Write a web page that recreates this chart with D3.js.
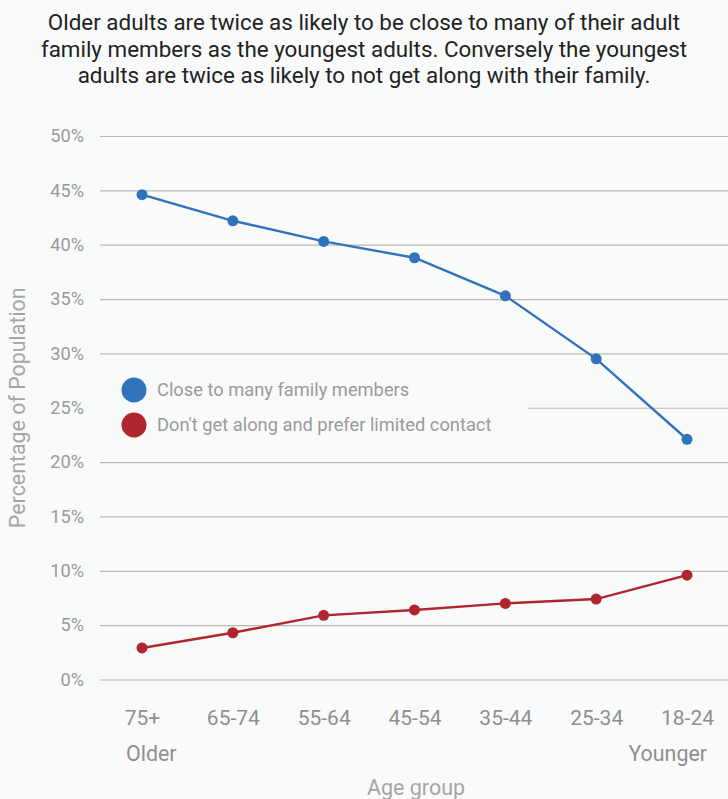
<!DOCTYPE html>
<html>
<head>
<meta charset="utf-8">
<script src="https://cdn.jsdelivr.net/npm/d3@7"></script>
<style>
  html, body { margin: 0; padding: 0; background: #f9fafa; }
  svg { display: block; font-family: Roboto, "Noto Sans", sans-serif; }
</style>
</head>
<body>
<script>
// Age groups, oldest first
const ageGroups = ["75+", "65-74", "55-64", "45-54", "35-44", "25-34", "18-24"];
// Share of population (%) per age group
const closeToFamily = [44.6, 42.2, 40.3, 38.8, 35.3, 29.5, 22.1];
const limitedContact = [2.9, 4.3, 5.9, 6.4, 7.0, 7.4, 9.6];
const yTicks = [0, 5, 10, 15, 20, 25, 30, 35, 40, 45, 50];
const seriesNames = ["Close to many family members", "Don't get along and prefer limited contact"];
const seriesColors = ["#3172bc", "#b0262f"];
const titleLines = [
  "Older adults are twice as likely to be close to many of their adult",
  "family members as the youngest adults. Conversely the youngest",
  "adults are twice as likely to not get along with their family."
];

const W = 728, H = 799;
const svg = d3.select("body").append("svg").attr("width", W).attr("height", H);
svg.append("rect").attr("width", W).attr("height", H).attr("fill", "#f9fafa");

const plot = { left: 100, right: 728, top: 136, bottom: 679.5 };

const x = d3.scalePoint().domain(ageGroups).range([142, 687]);
const y = d3.scaleLinear().domain([0, 50]).range([plot.bottom, plot.top]);

// Title
svg.append("g").selectAll("text").data(titleLines).join("text")
  .attr("x", W / 2)
  .attr("y", (d, i) => 30 + i * 26.5)
  .attr("text-anchor", "middle")
  .attr("fill", "#222")
  .attr("font-size", 22.4)
  .text(d => d);

// Horizontal gridlines with percentage labels
const yAxis = d3.axisLeft(y).tickValues(yTicks).tickFormat(d => d + "%")
  .tickSize(-(plot.right - plot.left)).tickPadding(16);
const gy = svg.append("g").attr("transform", `translate(${plot.left},0)`).call(yAxis);
gy.select(".domain").remove();
gy.selectAll(".tick line").attr("stroke", "#b8b8b8").attr("stroke-width", 1.2);
gy.selectAll(".tick text").attr("fill", "#9a9a9a").attr("font-size", 18.2)
  .attr("font-family", "Roboto, sans-serif");

// Category labels along the bottom
const xAxis = d3.axisBottom(x).tickSize(0).tickPadding(0);
const gx = svg.append("g").attr("transform", `translate(0,${plot.bottom + 27})`).call(xAxis);
gx.select(".domain").remove();
gx.selectAll(".tick text").attr("fill", "#8f8f8f").attr("font-size", 21)
  .attr("font-family", "Roboto, sans-serif").attr("dy", "0.9em");

svg.append("text").attr("x", x(ageGroups[0]) - 16).attr("y", 761)
  .attr("fill", "#8f8f8f").attr("font-size", 21.4).text("Older");
svg.append("text").attr("x", x(ageGroups[ageGroups.length - 1]) + 20).attr("y", 761)
  .attr("text-anchor", "end").attr("fill", "#8f8f8f").attr("font-size", 21.4).text("Younger");

// Axis titles
svg.append("text").attr("x", 416).attr("y", 795).attr("text-anchor", "middle")
  .attr("fill", "#a6a6a6").attr("font-size", 21.5).text("Age group");
svg.append("text").attr("transform", `translate(25,${(plot.top + plot.bottom) / 2}) rotate(-90)`)
  .attr("text-anchor", "middle").attr("fill", "#a6a6a6").attr("font-size", 21.4)
  .text("Percentage of Population");

// Series lines and markers
const series = [closeToFamily, limitedContact];
const line = d3.line().x((d, i) => x(ageGroups[i])).y(d => y(d));
series.forEach((vals, s) => {
  svg.append("path").datum(vals).attr("d", line).attr("fill", "none")
    .attr("stroke", seriesColors[s]).attr("stroke-width", 2.4);
  svg.append("g").selectAll("circle").data(vals).join("circle")
    .attr("cx", (d, i) => x(ageGroups[i])).attr("cy", d => y(d)).attr("r", 5.5)
    .attr("fill", seriesColors[s]);
});

// Legend with a backing panel over the gridlines
const legend = svg.append("g");
legend.append("rect").attr("x", 100).attr("y", 370).attr("width", 428).attr("height", 76)
  .attr("fill", "#f9fafa");
seriesNames.forEach((name, i) => {
  const cy = 390 + i * 35;
  legend.append("circle").attr("cx", 134).attr("cy", cy).attr("r", 12.5).attr("fill", seriesColors[i]);
  legend.append("text").attr("x", 157).attr("y", cy).attr("dy", "0.35em")
    .attr("fill", "#9a9a9a").attr("font-size", 18.3).text(name);
});
</script>
</body>
</html>
